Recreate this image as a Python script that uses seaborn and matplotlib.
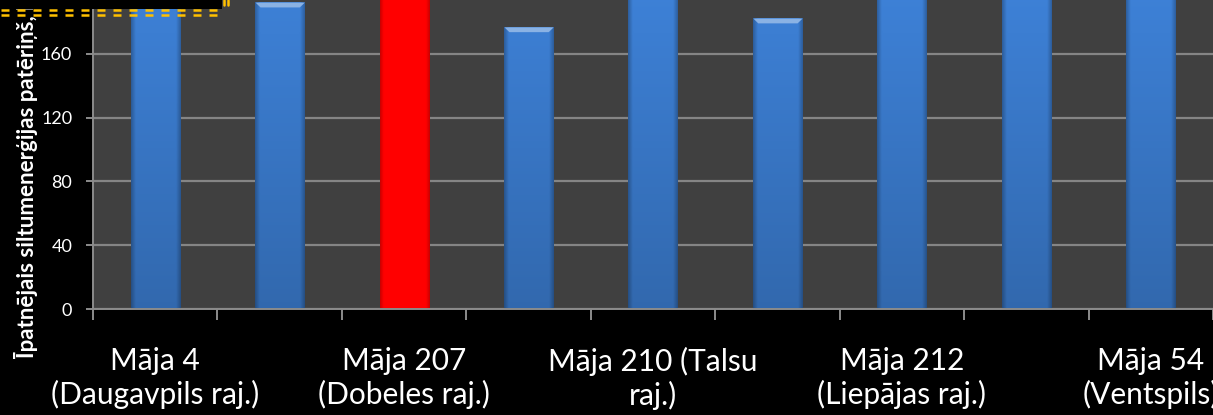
import numpy as np
import pandas as pd
import matplotlib
matplotlib.use("Agg")
import matplotlib.pyplot as plt
import seaborn as sns
from matplotlib.patches import Rectangle
from matplotlib.lines import Line2D
from matplotlib.colors import to_rgb

# ---- data (bars above ~194 are cut off in the reference) ----
houses = ["H1", "H2", "H3", "H4", "H5", "H6", "H7", "H8", "H9"]
tick_labels = ["Māja 4\n(Daugavpils raj.)", "", "Māja 207\n(Dobeles raj.)", "",
               "Māja 210 (Talsu\nraj.)", "", "Māja 212\n(Liepājas raj.)", "",
               "Māja 54\n(Ventspils)"]
consumption = [205, 192.5, 240, 177, 215, 182.5, 225, 235, 250]
highlight = [False, False, True, False, False, False, False, False, False]
y_ticks = [0, 40, 80, 120, 160]
y_label = "Īpatnējais siltumenerģijas patēriņš, kWh/m² gadā"

W, H = 1213, 415
sns.set_theme(style="dark")
plt.rcParams["font.family"] = ["Lato", "DejaVu Sans"]

fig = plt.figure(figsize=(W / 100, H / 100), dpi=100, facecolor="black")
ax = fig.add_axes([93 / W, (H - 309) / H, (W - 93) / W, 309 / H])
ax.set_facecolor("#404040")

df = pd.DataFrame({"house": houses, "value": consumption,
                   "hl": ["red" if h else "blue" for h in highlight]})
sns.barplot(data=df, x="house", y="value", hue="hl",
            palette={"blue": "#3c7ed2", "red": "#ff0000"}, saturation=1,
            width=0.395, dodge=False, legend=False, ax=ax,
            edgecolor="none", linewidth=0, zorder=3)

ymax = 309 / 1.594
ax.set_ylim(0, ymax)
ax.set_xlim(-0.5, len(houses) - 0.5)

# gradient shading for the bars (derived from the drawn patches)
for p in ax.patches:
    x0, w = p.get_x(), p.get_width()
    h = p.get_height()
    if w <= 0 or h <= 0:
        continue
    base = np.array(to_rgb(p.get_facecolor()))
    top = min(h, ymax)
    ny, nx = 100, 60
    yy = np.linspace(1, 0, ny)[:, None]
    xx = np.linspace(-1, 1, nx)[None, :]
    if base[2] > 0.5:
        edge = 1 - 0.25 * np.clip((np.abs(xx) - 0.82) / 0.18, 0, 1)
        vert = 0.83 + 0.19 * (yy * (top / ymax))
    else:
        edge = 1 - 0.2 * np.clip((np.abs(xx) - 0.86) / 0.14, 0, 1)
        vert = np.ones_like(yy)
    img = np.clip(base[None, None, :] * (edge * vert)[:, :, None], 0, 1)
    im = ax.imshow(img, extent=[x0, x0 + w, 0, top], aspect="auto",
                   zorder=3.5, interpolation="bilinear")
    im.set_clip_path(p)
    # light bevel at the top of bars that end inside the view
    if h < ymax - 0.5:
        bev = (1 - (1 - base) * 0.6)
        ax.fill_between([x0, x0 + w * 0.1, x0 + w * 0.9, x0 + w], [h, h - 3, h - 3, h], [h, h, h, h],
                        color=bev, zorder=4, linewidth=0)
ax.set_xlim(-0.5, len(houses) - 0.5)
ax.set_ylim(0, ymax)

# grid and axes
ax.set_yticks(y_ticks)
ax.yaxis.grid(True, color="#858585", linewidth=1.6, zorder=1)
ax.xaxis.grid(False)
ax.set_axisbelow(True)
for s in ["top", "right"]:
    ax.spines[s].set_visible(False)
for s in ["left", "bottom"]:
    ax.spines[s].set_visible(True)
    ax.spines[s].set_color("#8c8c8c")
    ax.spines[s].set_linewidth(1.4)
    ax.spines[s].set_zorder(5)

ax.set_xticks(np.arange(-0.5, len(houses), 1.0))
ax.set_xticklabels([])
ax.set_xticks(np.arange(len(houses)), minor=True)
ax.set_xticklabels(tick_labels, minor=True, color="white", fontsize=21.5,
                   linespacing=1.22)
ax.tick_params(axis="x", which="major", length=8, width=1.4, color="#8c8c8c",
               direction="out", bottom=True)
ax.tick_params(axis="x", which="minor", length=0, pad=27, bottom=True)
ax.tick_params(axis="y", length=5, width=1.4, color="#8c8c8c", labelcolor="white",
               labelsize=13, pad=10, left=True)
ax.set_xlabel("")
ax.set_ylabel("")

fig.text(26 / W, 1 - 358 / H, y_label, rotation=90, ha="center", va="bottom",
         color="white", fontsize=16, fontweight="bold")

# cropped annotation box with double dashed yellow border (top-left corner)
def fx(x):
    return x / W

def fy(y):
    return 1 - y / H

fig.patches.append(Rectangle((0, fy(9)), fx(222), 9 / H, transform=fig.transFigure,
                             facecolor="black", edgecolor="none", zorder=10))
dash = dict(color="#ffc000", linewidth=1.8, linestyle=(0, (3.2, 3.2)),
            transform=fig.transFigure, zorder=11)
for yline in (10.5, 14.8):
    fig.lines.append(Line2D([fx(1), fx(225)], [fy(yline), fy(yline)], **dash))
for xline in (223.5, 227.5):
    fig.lines.append(Line2D([fx(xline), fx(xline)], [fy(0), fy(5.5)],
                            color="#ffc000", linewidth=1.8,
                            transform=fig.transFigure, zorder=11))

fig.savefig("out.png", dpi=100, facecolor="black")
